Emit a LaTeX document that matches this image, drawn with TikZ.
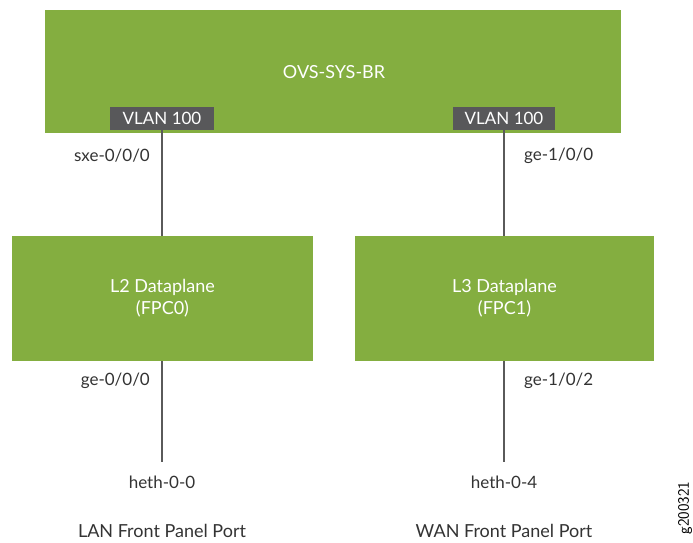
\documentclass[tikz,border=0pt]{standalone}
\usepackage{fontspec}
\setmainfont{Lato}
\definecolor{jgreen}{HTML}{84AE40}
\definecolor{vlangrey}{HTML}{58585A}
\definecolor{wire}{HTML}{5A5A5A}
\definecolor{ink}{HTML}{333333}
\begin{document}
\begin{tikzpicture}[x=1pt,y=-1pt,
  block/.style={fill=jgreen,draw=none,inner sep=0pt,text=white,align=center,font=\fontsize{18}{22}\selectfont},
  vlan/.style={fill=vlangrey,draw=none,inner sep=0pt,text=white,font=\fontsize{17}{20}\selectfont},
  lbl/.style={text=ink,inner sep=0pt,font=\fontsize{17}{20}\selectfont},
  caption/.style={text=ink,inner sep=0pt,font=\fontsize{18}{21}\selectfont},
  link/.style={draw=wire,line width=1.5pt}]
\useasboundingbox (0,0) rectangle (693,542);
% bridge with its two VLAN ports
\node[block,minimum width=576pt,minimum height=123pt] (ovs) at (333,71.5) {};
\node[block] (ovslbl) at (334,72) {OVS-SYS-BR};
\node[vlan,minimum width=104pt,minimum height=23pt] (vl) at (162,118.5) {VLAN 100};
\node[vlan,minimum width=102pt,minimum height=23pt] (vr) at (504,118.5) {VLAN 100};
% dataplanes
\node[block,minimum width=301pt,minimum height=125pt] (l2) at (162.5,298.5) {L2 Dataplane\\(FPC0)};
\node[block,minimum width=299pt,minimum height=125pt] (l3) at (504.5,298.5) {L3 Dataplane\\(FPC1)};
% front panel ports
\coordinate (pl) at (162,462);
\coordinate (pr) at (504,462);
\node[lbl] (hl) at (162,482) {heth-0-0};
\node[lbl] (hr) at (504,482) {heth-0-4};
\node[caption] (cl) at (162,531) {LAN Front Panel Port};
\node[caption] (cr) at (504,531) {WAN Front Panel Port};
% links
\draw[link] (vl.south) -- (vl.south |- l2.north);
\draw[link] (vr.south) -- (vr.south |- l3.north);
\draw[link] (pl |- l2.south) -- (pl);
\draw[link] (pr |- l3.south) -- (pr);
% interface labels
\node[lbl,anchor=east] (i1) at (150,156) {sxe-0/0/0};
\node[lbl,anchor=west] (i2) at (524,156) {ge-1/0/0};
\node[lbl,anchor=east] (i3) at (150,381) {ge-0/0/0};
\node[lbl,anchor=west] (i4) at (524,381) {ge-1/0/2};
% figure id
\node[text=black,inner sep=0pt,rotate=90,font=\fontsize{16}{18}\selectfont\sffamily] (fid) at (685,508) {g200321};
\end{tikzpicture}
\end{document}
